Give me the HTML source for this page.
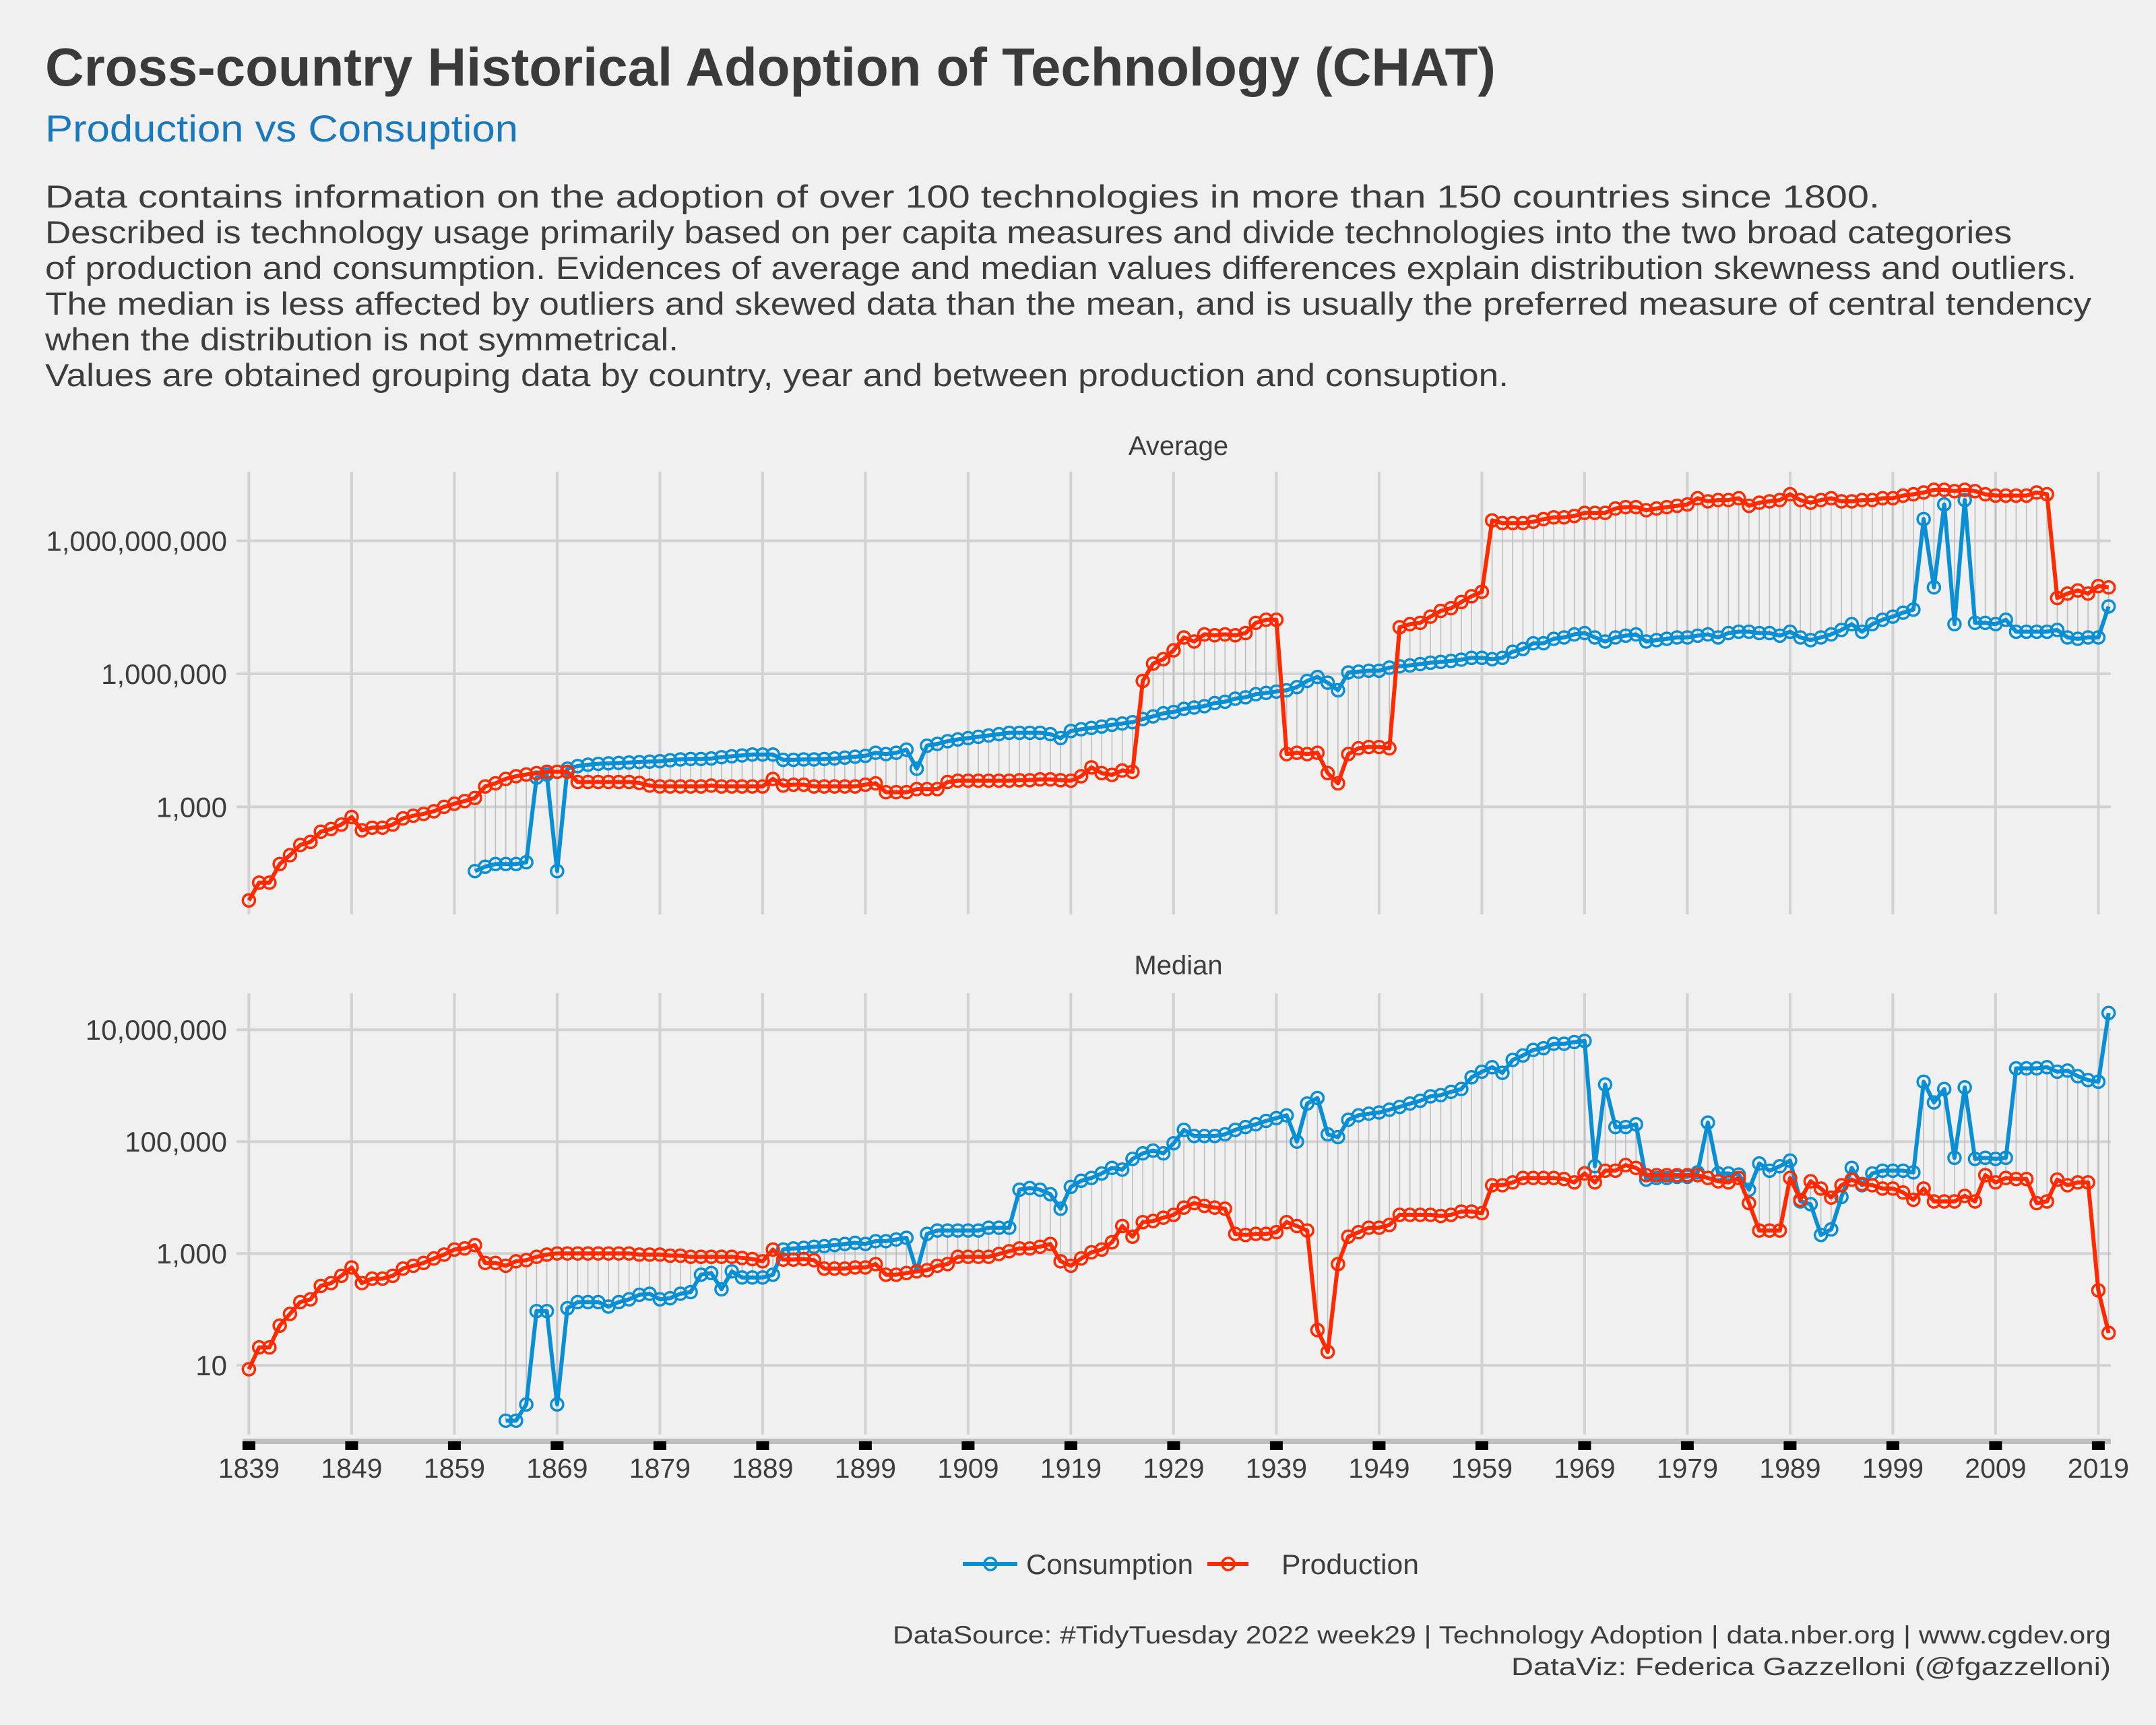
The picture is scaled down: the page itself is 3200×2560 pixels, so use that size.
<!DOCTYPE html>
<html><head><meta charset="utf-8"><style>
html,body{margin:0;padding:0;background:#f0f0f0;}
svg{display:block;font-family:"Liberation Sans",Arial,sans-serif;}
</style></head><body>
<svg id="chart" width="3200" height="2560" viewBox="0 0 3200 2560" xmlns="http://www.w3.org/2000/svg">
<rect width="3200" height="2560" fill="#f0f0f0"/>
<text x="67" y="127" font-size="80" font-weight="bold" fill="#3a3a3a" textLength="2153" lengthAdjust="spacingAndGlyphs">Cross-country Historical Adoption of Technology (CHAT)</text>
<text x="67" y="210" font-size="56" fill="#1a78bd" textLength="702" lengthAdjust="spacingAndGlyphs">Production vs Consuption</text>
<g font-size="47" fill="#3d3d3d">
<text x="67" y="308" textLength="2723" lengthAdjust="spacingAndGlyphs">Data contains information on the adoption of over 100 technologies in more than 150 countries since 1800.</text>
<text x="67" y="361" textLength="2919" lengthAdjust="spacingAndGlyphs">Described is technology usage primarily based on per capita measures and divide technologies into the two broad categories</text>
<text x="67" y="414" textLength="3015" lengthAdjust="spacingAndGlyphs">of production and consumption. Evidences of average and median values differences explain distribution skewness and outliers.</text>
<text x="67" y="467" textLength="3037" lengthAdjust="spacingAndGlyphs">The median is less affected by outliers and skewed data than the mean, and is usually the preferred measure of central tendency</text>
<text x="67" y="520" textLength="940" lengthAdjust="spacingAndGlyphs">when the distribution is not symmetrical.</text>
<text x="67" y="573" textLength="2172" lengthAdjust="spacingAndGlyphs">Values are obtained grouping data by country, year and between production and consuption.</text>
</g>
<text x="1749" y="675" font-size="40" fill="#3d3d3d" text-anchor="middle">Average</text>
<text x="1749" y="1446" font-size="40" fill="#3d3d3d" text-anchor="middle">Median</text>
<g id="layer"></g>
<g>
<g>
<line x1="1429" y1="2321" x2="1510" y2="2321" stroke="#0a8fd4" stroke-width="6"/>
<circle cx="1470" cy="2321" r="9" fill="none" stroke="#0a8fd4" stroke-width="3.5"/>
<text x="1523" y="2336" font-size="42" fill="#3d3d3d" textLength="248" lengthAdjust="spacingAndGlyphs">Consumption</text>
</g>
<g>
<line x1="1792" y1="2321" x2="1853" y2="2321" stroke="#ff2a00" stroke-width="6"/>
<circle cx="1823" cy="2321" r="9" fill="none" stroke="#ff2a00" stroke-width="3.5"/>
<text x="1902" y="2336" font-size="42" fill="#3d3d3d" textLength="204" lengthAdjust="spacingAndGlyphs">Production</text>
</g>
</g>
<text x="3133" y="2439" font-size="37" fill="#3d3d3d" text-anchor="end" textLength="1808" lengthAdjust="spacingAndGlyphs">DataSource: #TidyTuesday 2022 week29 | Technology Adoption | data.nber.org | www.cgdev.org</text>
<text x="3133" y="2486" font-size="37" fill="#3d3d3d" text-anchor="end" textLength="890" lengthAdjust="spacingAndGlyphs">DataViz: Federica Gazzelloni (@fgazzelloni)</text>
</svg>
<script>
// ---- data (values stored as log10 of the metric) ----
const firstYear = 1839;
const lastYear = 2020;
const xTickYears = [1839,1849,1859,1869,1879,1889,1899,1909,1919,1929,1939,1949,1959,1969,1979,1989,1999,2009,2019];
const avgTickLog10 = [3,6,9];
const avgTickLabels = ["1,000","1,000,000","1,000,000,000"];
const medTickLog10 = [1,3,5,7];
const medTickLabels = ["10","1,000","100,000","10,000,000"];

const avgProductionLog10 = [
0.89,1.29,1.29,1.71,1.91,2.14,2.21,2.44,2.5,2.6,2.77,
2.47,2.53,2.53,2.6,2.74,2.8,2.84,2.9,3.0,3.07,
3.13,3.2,3.46,3.53,3.63,3.69,3.73,3.76,3.79,3.79,
3.79,3.56,3.56,3.56,3.56,3.56,3.56,3.54,3.48,3.46,
3.46,3.46,3.46,3.46,3.48,3.46,3.46,3.46,3.46,3.46,
3.63,3.48,3.5,3.5,3.46,3.46,3.46,3.46,3.46,3.5,
3.53,3.33,3.33,3.33,3.4,3.4,3.4,3.56,3.59,3.59,
3.59,3.59,3.59,3.59,3.6,3.6,3.62,3.62,3.6,3.59,
3.69,3.89,3.76,3.72,3.82,3.79,5.84,6.23,6.33,6.53,
6.82,6.73,6.89,6.87,6.89,6.87,6.92,7.15,7.22,7.22,
4.19,4.22,4.19,4.22,3.76,3.53,4.19,4.32,4.35,4.35,
4.32,7.05,7.12,7.15,7.29,7.42,7.48,7.62,7.75,7.85,
9.46,9.4,9.4,9.4,9.43,9.49,9.53,9.53,9.56,9.63,
9.63,9.63,9.73,9.76,9.76,9.69,9.73,9.76,9.79,9.82,
9.96,9.89,9.92,9.92,9.96,9.79,9.86,9.89,9.92,10.05,
9.92,9.86,9.92,9.96,9.89,9.89,9.92,9.92,9.96,9.96,
10.02,10.05,10.09,10.15,10.15,10.12,10.15,10.12,10.05,10.02,
10.02,10.02,10.02,10.09,10.05,7.71,7.81,7.88,7.81,7.98,
7.95];

const avgConsumptionLog10 = [
null,null,null,null,null,null,null,null,null,null,null,
null,null,null,null,null,null,null,null,null,null,null,
1.55,1.65,1.71,1.71,1.71,1.75,3.66,3.73,1.55,
3.86,3.92,3.95,3.97,3.98,3.99,4.0,4.01,4.02,4.03,
4.05,4.07,4.08,4.08,4.09,4.12,4.14,4.16,4.18,4.18,
4.18,4.06,4.06,4.07,4.07,4.08,4.09,4.11,4.13,4.15,
4.22,4.19,4.22,4.29,3.86,4.38,4.42,4.48,4.52,4.55,
4.58,4.61,4.64,4.67,4.67,4.67,4.67,4.64,4.55,4.71,
4.75,4.78,4.81,4.85,4.88,4.91,4.98,5.04,5.11,5.14,
5.21,5.24,5.27,5.34,5.37,5.44,5.47,5.54,5.57,5.6,
5.63,5.7,5.84,5.93,5.8,5.63,6.03,6.05,6.07,6.07,
6.14,6.17,6.19,6.22,6.25,6.27,6.29,6.32,6.36,6.36,
6.33,6.36,6.5,6.56,6.69,6.69,6.79,6.82,6.89,6.92,
6.82,6.73,6.82,6.86,6.89,6.73,6.76,6.79,6.82,6.82,
6.86,6.89,6.82,6.92,6.95,6.95,6.92,6.92,6.86,6.95,
6.82,6.76,6.82,6.89,6.99,7.12,6.95,7.12,7.22,7.29,
7.38,7.45,9.49,7.95,9.82,7.12,9.92,7.15,7.15,7.12,
7.22,6.95,6.95,6.95,6.95,6.99,6.82,6.79,6.82,6.82,
7.52];

const medProductionLog10 = [
0.93,1.32,1.32,1.71,1.92,2.13,2.18,2.42,2.47,2.6,2.75,
2.47,2.55,2.55,2.6,2.73,2.78,2.83,2.91,2.98,3.07,
3.09,3.15,2.83,2.83,2.78,2.86,2.88,2.94,2.98,3.0,
3.0,3.0,3.0,3.0,3.0,3.0,3.0,2.98,2.98,2.98,
2.96,2.96,2.94,2.94,2.94,2.94,2.94,2.92,2.9,2.86,
3.07,2.89,2.89,2.9,2.88,2.73,2.73,2.73,2.75,2.75,
2.81,2.62,2.62,2.65,2.68,2.7,2.78,2.81,2.94,2.94,
2.94,2.94,2.99,3.04,3.09,3.09,3.12,3.17,2.86,2.78,
2.91,3.02,3.07,3.2,3.49,3.3,3.56,3.58,3.64,3.69,
3.82,3.9,3.85,3.82,3.8,3.35,3.33,3.35,3.35,3.38,
3.56,3.49,3.41,1.63,1.24,2.81,3.3,3.38,3.46,3.46,
3.51,3.69,3.69,3.69,3.69,3.67,3.69,3.75,3.75,3.72,
4.22,4.22,4.27,4.35,4.35,4.35,4.35,4.33,4.27,4.43,
4.27,4.48,4.48,4.58,4.53,4.4,4.4,4.4,4.4,4.4,
4.4,4.35,4.29,4.27,4.35,3.9,3.41,3.41,3.41,4.35,
3.96,4.29,4.16,4.0,4.22,4.32,4.24,4.22,4.16,4.16,
4.09,3.96,4.16,3.93,3.93,3.93,4.03,3.93,4.4,4.27,
4.35,4.33,4.33,3.9,3.93,4.32,4.22,4.27,4.27,2.34,
1.58];

const medConsumptionLog10 = [
null,null,null,null,null,null,null,null,null,null,null,
null,null,null,null,null,null,null,null,null,null,null,null,null,null,
0.01,0.01,0.3,1.97,1.97,0.3,
2.02,2.13,2.13,2.13,2.05,2.13,2.18,2.26,2.28,2.18,
2.2,2.28,2.31,2.62,2.65,2.36,2.68,2.57,2.57,2.57,
2.62,3.07,3.09,3.1,3.12,3.13,3.15,3.17,3.19,3.17,
3.22,3.22,3.25,3.28,2.68,3.35,3.41,3.41,3.41,3.41,
3.41,3.46,3.46,3.46,4.14,4.17,4.14,4.06,3.8,4.19,
4.3,4.35,4.43,4.53,4.5,4.69,4.79,4.84,4.79,4.97,
5.21,5.1,5.1,5.1,5.13,5.21,5.26,5.31,5.37,5.42,
5.47,5.0,5.68,5.78,5.13,5.08,5.39,5.47,5.5,5.52,
5.57,5.62,5.68,5.73,5.81,5.83,5.89,5.94,6.15,6.25,
6.33,6.23,6.46,6.54,6.64,6.67,6.75,6.75,6.78,6.8,
4.56,6.02,5.26,5.26,5.31,4.32,4.35,4.35,4.37,4.37,
4.45,5.34,4.43,4.43,4.41,4.14,4.61,4.48,4.56,4.66,
3.93,3.88,3.33,3.43,4.01,4.53,4.22,4.43,4.48,4.48,
4.48,4.45,6.07,5.7,5.94,4.71,5.97,4.69,4.71,4.69,
4.71,6.31,6.31,6.31,6.33,6.25,6.27,6.17,6.1,6.07,
7.3];

// ---- scales ----
const NS = "http://www.w3.org/2000/svg";
const layer = document.getElementById("layer");
const PL = 351, PR = 3133;
function xScale(year){ return 369.4 + (year - firstYear) * 15.25; }
const panels = [
  {name:"average", top:700, bottom:1357, y:(v)=>1000 - (v - 6) * 65.8, ticks:avgTickLog10, labels:avgTickLabels, cons:avgConsumptionLog10, prod:avgProductionLog10},
  {name:"median", top:1474, bottom:2129, y:(v)=>1694.2 - (v - 5) * 83.0, ticks:medTickLog10, labels:medTickLabels, cons:medConsumptionLog10, prod:medProductionLog10}
];
function mk(tag, attrs, parent){
  const e = document.createElementNS(NS, tag);
  for (const k in attrs) e.setAttribute(k, attrs[k]);
  (parent || layer).appendChild(e);
  return e;
}
const CONS = "#0a8fd4", PROD = "#ff2a00";

panels.forEach(p => {
  const g = mk("g", {});
  
  
  p.ticks.forEach((t, i) => {
    const yy = p.y(t);
    const gl = mk("line", {x1:PL, x2:PR, y1:yy, y2:yy, stroke:"#d2d2d2", "stroke-width":4}, g);
    
    
    const lb = mk("text", {x:337, y:yy + 15, "font-size":42, fill:"#3d3d3d", "text-anchor":"end"}, g);
    lb.textContent = p.labels[i];
    
    
  });
  xTickYears.forEach(yr => {
    const xx = xScale(yr);
    const vl = mk("line", {x1:xx, x2:xx, y1:p.top, y2:p.bottom, stroke:"#d2d2d2", "stroke-width":4}, g);
    
    
  });
  for (let i = 0; i <= lastYear - firstYear; i++) {
    const c = p.cons[i], pr = p.prod[i];
    if (c == null || pr == null) continue;
    const xx = xScale(firstYear + i);
    const seg = mk("line", {x1:xx, x2:xx, y1:p.y(c), y2:p.y(pr), stroke:"#bdbdbd", "stroke-width":1.6}, g);
    
    
  }
  [["consumption", p.cons, CONS], ["production", p.prod, PROD]].forEach(([nm, arr, col]) => {
    let d = "";
    let started = false;
    arr.forEach((v, i) => {
      if (v == null) { started = false; return; }
      d += (started ? "L" : "M") + xScale(firstYear + i).toFixed(1) + "," + p.y(v).toFixed(1);
      started = true;
    });
    const path = mk("path", {d:d, fill:"none", stroke:col, "stroke-width":6, "stroke-linejoin":"round"}, g);
    
    
    arr.forEach((v, i) => {
      if (v == null) return;
      const c = mk("circle", {cx:xScale(firstYear + i), cy:p.y(v), r:9, fill:"none", stroke:col, "stroke-width":3.5}, g);
      
      
    });
  });
});

const ax = mk("g", {});


const axl = mk("line", {x1:360, x2:PR, y1:2139, y2:2139, stroke:"#bebebe", "stroke-width":8}, ax);


xTickYears.forEach(yr => {
  const xx = xScale(yr);
  const tk = mk("rect", {x:xx - 9.5, y:2139, width:19, height:13, fill:"#000"}, ax);
  
  
  const tl = mk("text", {x:xx, y:2193, "font-size":41, fill:"#3d3d3d", "text-anchor":"middle"}, ax);
  tl.textContent = String(yr);
  
  
});
</script>
</body></html>
